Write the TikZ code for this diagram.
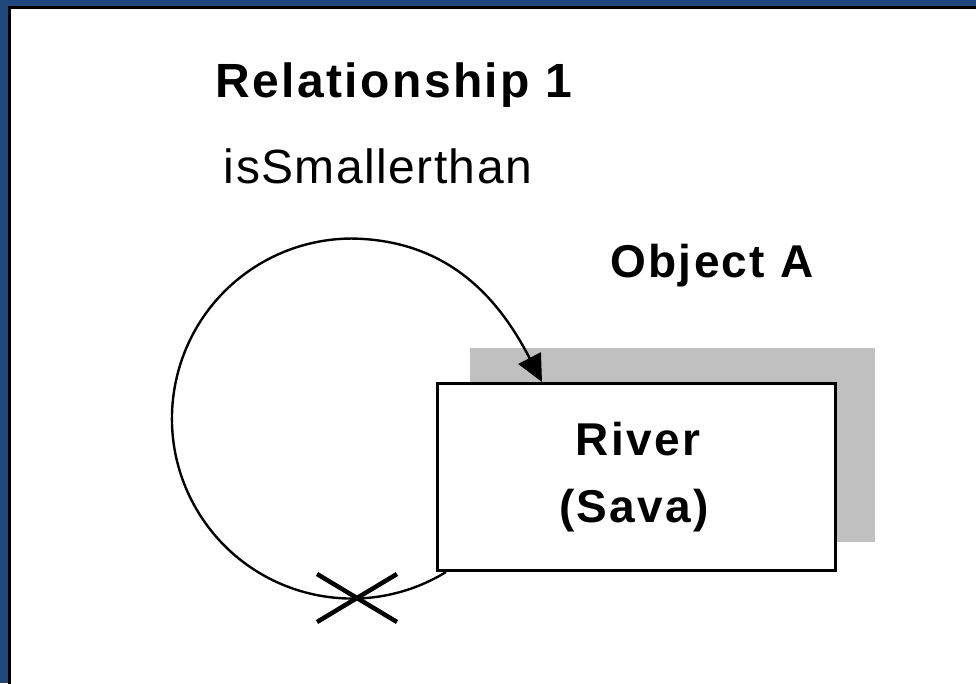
\documentclass[tikz,border=0pt]{standalone}
\usepackage{fontspec}
\setmainfont{Liberation Sans}
\newfontfamily\boldsp[LetterSpace=5]{Liberation Sans}
\newfontfamily\regsp[LetterSpace=3]{Liberation Sans}
\usetikzlibrary{arrows.meta}
\definecolor{frameblue}{RGB}{31,73,125}
\definecolor{shadowgray}{RGB}{192,192,192}
\tikzset{
  titletext/.style={anchor=base, inner sep=0pt, font=\boldsp\bfseries\fontsize{48}{56}\selectfont},
  reltext/.style={anchor=base, inner sep=0pt, font=\regsp\fontsize{48}{56}\selectfont},
  objtext/.style={anchor=base, inner sep=0pt, font=\boldsp\bfseries\fontsize{46}{54}\selectfont},
  boxtext/.style={anchor=base, inner sep=0pt, font=\boldsp\bfseries\fontsize{46}{54}\selectfont},
  objbox/.style={draw=black, fill=white, line width=3pt, inner sep=0pt, minimum width=398pt, minimum height=187pt},
  shadowbox/.style={fill=shadowgray, inner sep=0pt, minimum width=405pt, minimum height=194pt},
  loopline/.style={draw=black, line width=2.4pt, -{Triangle[length=27pt, width=25pt]}},
  xline/.style={draw=black, line width=4.5pt}
}
\begin{document}
\begin{tikzpicture}[x=1pt, y=-1pt]
\useasboundingbox (0,0) rectangle (976,683);
% frame
\fill[frameblue] (0,0) rectangle (976,683);
\fill[black] (8,6) rectangle (990,700);
\fill[white] (11,9) rectangle (990,700);
% texts
\node[titletext] (rel) at (394,97) {Relationship 1};
\node[reltext] (relname) at (378,183) {isSmallerthan};
\node[objtext] (objA) at (712,277) {Object A};
% object box
\node[shadowbox] (shadow) at (672.5,445) {};
\node[objbox] (river) at (636.5,477) {};
\node[boxtext] (rivername) at (638,455) {River};
\node[boxtext] (rivervalue) at (634,522) {(Sava)};
% loop
\coordinate (loopstart) at ([xshift=10pt]river.south west);
\coordinate (looptip) at ([xshift=106pt]river.north west);
\draw[loopline] (loopstart) arc[start angle=58.5, end angle=270, radius=180]
  .. controls (452,240) and (501,303) .. (looptip);
% cross
\coordinate (xmark) at (357,598);
\draw[xline] (xmark) ++(-40,-24) -- ++(80,48);
\draw[xline] (xmark) ++(40,-24) -- ++(-80,48);
\end{tikzpicture}
\end{document}
